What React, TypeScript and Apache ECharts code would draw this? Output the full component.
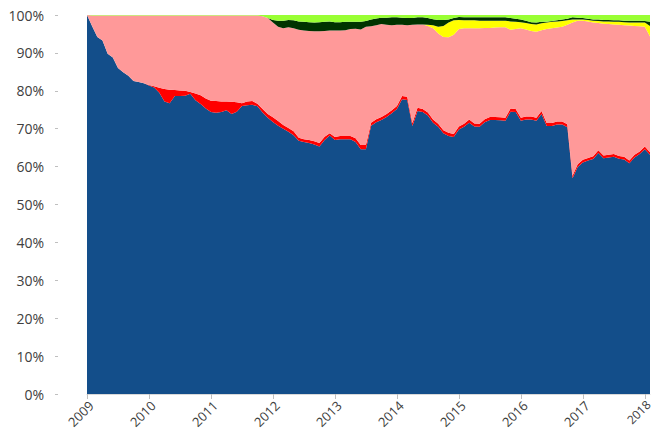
import React, { useEffect, useRef } from "react";
import * as echarts from "echarts";

// Monthly categories, Jan 2009 .. Feb 2018
const startYear = 2009;
const monthCount = 110;
const months: string[] = [];
for (let i = 0; i < monthCount; i++) {
  months.push(`${startYear + Math.floor(i / 12)}-${String((i % 12) + 1).padStart(2, "0")}`);
}
const lastYearLabel = "2018";

// Bottom layer share (%)
const blue = [
  100, 97, 94.2, 93.3, 89.8, 88.8, 86, 84.9, 84, 82.6, 82.3, 82,
  81.4, 80.9, 79.5, 77.2, 76.7, 78.6, 78.6, 78.7, 79.2, 77.5, 76.5, 75.3,
  74.4, 74.2, 74.4, 74.9, 73.9, 74.5, 76, 76.2, 76.3, 75.9, 74.3, 72.9,
  71.8, 70.8, 70, 69.2, 68.3, 66.8, 66.5, 66.2, 65.8, 65.3, 67, 68.2,
  67, 67.2, 67.2, 67.2, 66.5, 64.6, 64.6, 70.8, 71.7, 72.3, 73.1, 74.1,
  75.2, 77.8, 77.6, 70.7, 74.7, 74.4, 73.5, 71.6, 70.5, 68.8, 68.1, 67.8,
  69.8, 70.5, 71.6, 70.6, 70.5, 71.7, 72.3, 72.3, 72.2, 72.1, 74.5, 74.4,
  72.1, 72.4, 72.4, 72.1, 73.9, 70.7, 70.7, 71.1, 71.1, 70.4, 56.9, 59.9,
  61.1, 61.6, 62, 63.6, 62.2, 62.4, 62.6, 62.1, 61.9, 60.9, 62.4, 63.3,
  64.6, 63.1,
];

// Red layer share (%)
const red = [
  0, 0, 0, 0, 0, 0, 0, 0, 0, 0, 0, 0,
  0.1, 0.3, 1.3, 3.3, 3.6, 1.6, 1.5, 1.3, 0.5, 1.8, 2.3, 2.7,
  3, 3.1, 2.8, 2.3, 3.2, 2.5, 0.7, 1, 1, 0.7, 0.9, 1,
  1.2, 1.2, 1, 1, 1, 0.8, 0.7, 0.8, 0.9, 0.9, 0.9, 0.6,
  0.8, 0.9, 0.9, 0.9, 1, 1.1, 1.1, 0.8, 0.8, 0.8, 0.8, 0.8,
  0.8, 0.8, 0.8, 0.8, 0.8, 0.8, 0.8, 0.8, 0.8, 0.8, 0.8, 0.8,
  0.8, 0.8, 0.8, 0.8, 0.8, 0.8, 0.8, 0.8, 0.8, 0.8, 0.8, 0.8,
  0.8, 0.8, 0.8, 0.8, 0.8, 0.8, 0.8, 0.8, 0.8, 0.8, 0.7, 0.7,
  0.7, 0.7, 0.7, 0.7, 0.7, 0.7, 0.7, 0.7, 0.7, 0.7, 0.7, 0.7,
  0.7, 0.7,
];

// Upper edge of the pink layer (cumulative %)
const pinkTop = [
  99.85, 99.85, 99.85, 99.85, 99.85, 99.85, 99.85, 99.85, 99.85, 99.85, 99.85, 99.85,
  99.85, 99.85, 99.85, 99.85, 99.85, 99.85, 99.85, 99.85, 99.85, 99.85, 99.85, 99.85,
  99.85, 99.85, 99.85, 99.85, 99.85, 99.85, 99.85, 99.85, 99.85, 99.85, 99.7, 99.2,
  98, 96.9, 96.5, 96.8, 96.5, 96.1, 95.9, 95.8, 95.7, 95.7, 95.8, 95.9,
  95.9, 95.9, 96, 96.3, 96.4, 96.2, 96.9, 97, 97.3, 97.6, 97.4, 97.3,
  97.4, 97.4, 97.3, 97.4, 97.5, 97.5, 97.1, 96.5, 95.1, 94.2, 94.1, 94.8,
  96.3, 96.5, 96.5, 96.5, 96.5, 96.6, 96.6, 96.7, 96.8, 96.8, 96.1, 96.3,
  96.5, 96.2, 95.8, 95.6, 96, 96.3, 96.5, 96.7, 96.9, 97.4, 98, 98.5,
  98.5, 98.3, 98, 97.9, 97.7, 97.6, 97.5, 97.4, 97.3, 97.2, 97.1, 97,
  96.9, 94.3,
];

// Yellow layer share (%)
const yellow = [
  0, 0, 0, 0, 0, 0, 0, 0, 0, 0, 0, 0,
  0, 0, 0, 0, 0, 0, 0, 0, 0, 0, 0, 0,
  0, 0, 0, 0, 0, 0, 0, 0, 0, 0, 0, 0,
  0, 0, 0, 0, 0, 0, 0, 0, 0, 0, 0, 0,
  0, 0, 0, 0, 0, 0, 0, 0, 0, 0, 0, 0,
  0, 0, 0, 0, 0, 0, 0.3, 0.8, 1.8, 2.9, 3.9, 3.8,
  2.4, 2.1, 2.1, 2.1, 2.0, 1.9, 1.9, 1.8, 1.7, 1.7, 2.2, 1.9,
  1.6, 1.7, 1.8, 1.9, 1.8, 1.7, 1.7, 1.6, 1.5, 1.2, 0.8, 0.3,
  0.3, 0.4, 0.5, 0.5, 0.6, 0.7, 0.7, 0.8, 0.8, 0.8, 0.9, 1.0,
  1.1, 2.8,
];

// Upper edge of the dark green layer (cumulative %); light green fills to 100
const darkGreenTop = [
  99.85, 99.85, 99.85, 99.85, 99.85, 99.85, 99.85, 99.85, 99.85, 99.85, 99.85, 99.85,
  99.85, 99.85, 99.85, 99.85, 99.85, 99.85, 99.85, 99.85, 99.85, 99.85, 99.85, 99.85,
  99.85, 99.85, 99.85, 99.85, 99.85, 99.85, 99.85, 99.85, 99.85, 99.85, 99.7, 99.2,
  98.7, 98.5, 98.5, 98.7, 98.6, 98.3, 98.2, 98.1, 98, 98.1, 98.2, 98.3,
  98.1, 98.1, 98.2, 98.2, 98.2, 98.2, 98.4, 98.8, 99.1, 99.3, 99.3, 99.4,
  99.4, 99.3, 99.2, 99.2, 99.4, 99.4, 99.2, 98.9, 98.7, 98.7, 98.8, 99.2,
  99.5, 99.4, 99.4, 99.4, 99.4, 99.4, 99.4, 99.4, 99.4, 99.4, 99.2, 99,
  98.8, 98.5, 98.1, 98, 98.2, 98.2, 98.4, 98.6, 98.8, 99, 99.4, 99.3,
  99.2, 99, 98.8, 98.8, 98.7, 98.7, 98.6, 98.6, 98.5, 98.5, 98.5, 98.5,
  98.4, 98.2,
];

const yTicks = [0, 10, 20, 30, 40, 50, 60, 70, 80, 90, 100];

const colors = {
  blue: "#134E8A",
  red: "#FF0000",
  pink: "#FF9999",
  yellow: "#FFFF00",
  darkGreen: "#003300",
  lightGreen: "#99FF33",
};

function buildLayers() {
  const pink: number[] = [];
  const dark: number[] = [];
  const light: number[] = [];
  for (let i = 0; i < months.length; i++) {
    const below = blue[i] + red[i];
    const p = Math.max(0, pinkTop[i] - below);
    const pTop = below + p;
    const yTop = pTop + yellow[i];
    const d = Math.max(0, darkGreenTop[i] - yTop);
    const dTop = yTop + d;
    const l = Math.max(0, 100 - dTop);
    pink.push(+p.toFixed(2));
    dark.push(+d.toFixed(2));
    light.push(+l.toFixed(2));
  }
  return { pink, dark, light };
}

export default function App() {
  const ref = useRef<HTMLDivElement>(null);
  useEffect(() => {
    if (!ref.current) return;
    const chart = echarts.init(ref.current, undefined, { renderer: "svg" });
    const { pink, dark, light } = buildLayers();
    const layer = (name: string, data: number[], color: string) => ({
      name,
      type: "line",
      stack: "total",
      data,
      symbol: "none",
      showSymbol: false,
      smooth: false,
      lineStyle: { width: 0, color },
      itemStyle: { color },
      areaStyle: { color, opacity: 1 },
    });
    const yearTick = (idx: number) => idx % 12 === 0;
    chart.setOption({
      animation: false,
      backgroundColor: "#ffffff",
      grid: {
        left: 87,
        right: 2,
        top: 15,
        bottom: 36,
        containLabel: false,
        outerBoundsMode: "none",
      },
      xAxis: {
        type: "category",
        data: months,
        boundaryGap: false,
        axisLine: { show: true, lineStyle: { color: "#d9d9d9", width: 1 } },
        axisTick: { show: true, interval: yearTick, length: 5, lineStyle: { color: "#bfbfbf" } },
        axisLabel: {
          interval: yearTick,
          rotate: 45,
          margin: 5,
          align: "right",
          verticalAlign: "top",
          lineHeight: 12,
          color: "#404040",
          fontSize: 13,
          fontFamily: "Open Sans",
          hideOverlap: false,
          formatter: (v: string) => {
            const y = v.slice(0, 4);
            return y === lastYearLabel ? `{edge|${y}}` : y;
          },
          rich: {
            edge: {
              fontSize: 12,
              lineHeight: 10,
              color: "#404040",
              fontFamily: "Open Sans",
            },
          },
        },
        splitLine: { show: false },
      },
      yAxis: {
        type: "value",
        min: 0,
        max: 100,
        interval: 10,
        offset: 29,
        axisLine: { show: false },
        axisTick: { show: true, length: 3, lineStyle: { color: "#bfbfbf" } },
        axisLabel: {
          margin: 14,
          color: "#404040",
          fontSize: 14,
          fontFamily: "Open Sans",
          formatter: (v: number) => (yTicks.includes(v) ? `${v}%` : ""),
        },
        splitLine: { show: false },
      },
      series: [
        layer("Blue", blue, colors.blue),
        layer("Red", red, colors.red),
        layer("Pink", pink, colors.pink),
        layer("Yellow", yellow, colors.yellow),
        layer("Dark green", dark, colors.darkGreen),
        layer("Light green", light, colors.lightGreen),
      ],
    });
    return () => chart.dispose();
  }, []);
  return (
    <div
      ref={ref}
      style={{ position: "fixed", left: 0, top: 0, width: 652, height: 430, background: "#fff" }}
    />
  );
}
